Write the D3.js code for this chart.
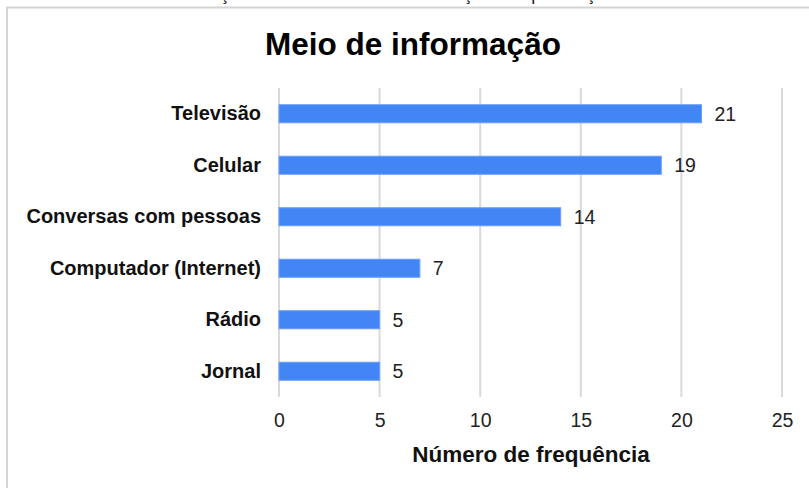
<!DOCTYPE html>
<html>
<head>
<meta charset="utf-8">
<script src="https://cdn.jsdelivr.net/npm/d3@7"></script>
<style>
  body { margin: 0; background: #fff; }
  svg { display: block; font-family: "Liberation Sans", Arial, sans-serif; }
</style>
</head>
<body>
<svg id="chart" width="809" height="488"></svg>
<script>
// dados
const categories = ["Televisão", "Celular", "Conversas com pessoas", "Computador (Internet)", "Rádio", "Jornal"];
const values = [21, 19, 14, 7, 5, 5];
const ticks = [0, 5, 10, 15, 20, 25];
const title = "Meio de informação";
const xTitle = "Número de frequência";
const caption = "Gráfico 4 - Meio de informação dos moradores sobre as ações de prevenção da comunidade local";

const svg = d3.select("#chart");

// legenda cortada no topo (como no original)
svg.append("text")
  .attr("x", 2)
  .attr("y", 0)
  .attr("font-size", 18)
  .attr("fill", "#222")
  .text(caption);

// moldura
svg.append("path")
  .attr("d", "M7,488V7.5H809")
  .attr("fill", "none")
  .attr("stroke", "#d4d4d4")
  .attr("stroke-width", 2);

const x = d3.scaleLinear().domain([0, 25]).range([279, 782]);
const y = d3.scaleBand().domain(categories).range([88, 397]).paddingInner(0.65).paddingOuter(0.325);

// título
svg.append("text")
  .attr("x", 413)
  .attr("y", 55)
  .attr("text-anchor", "middle")
  .attr("font-size", 31.5)
  .attr("font-weight", "bold")
  .attr("fill", "#000")
  .text(title);

// grade
svg.append("g")
  .selectAll("line")
  .data(ticks)
  .join("line")
  .attr("x1", (d) => x(d))
  .attr("x2", (d) => x(d))
  .attr("y1", 88)
  .attr("y2", 397)
  .attr("stroke", "#d9d9d9")
  .attr("stroke-width", 2);

// eixo x
const xAxis = svg.append("g")
  .attr("transform", "translate(0,397)")
  .call(d3.axisBottom(x).tickValues(ticks).tickSize(0).tickPadding(16));
xAxis.select(".domain").remove();
xAxis.selectAll("text")
  .attr("font-size", 19.5)
  .attr("font-family", "Liberation Sans, Arial, sans-serif")
  .attr("fill", "#222");

// eixo y
const yAxis = svg.append("g")
  .attr("transform", "translate(279,0)")
  .call(d3.axisLeft(y).tickSize(0).tickPadding(18));
yAxis.select(".domain").remove();
yAxis.selectAll("text")
  .attr("font-size", 20)
  .attr("font-weight", "bold")
  .attr("font-family", "Liberation Sans, Arial, sans-serif")
  .attr("fill", "#111");

// barras
svg.append("g")
  .selectAll("rect")
  .data(values)
  .join("rect")
  .attr("x", x(0))
  .attr("y", (d, i) => y(categories[i]))
  .attr("width", (d) => x(d) - x(0))
  .attr("height", y.bandwidth())
  .attr("fill", "#4285f4")
  .attr("stroke", "#6a9df6")
  .attr("stroke-width", 1);

// rótulos
svg.append("g")
  .selectAll("text")
  .data(values)
  .join("text")
  .attr("x", (d) => x(d) + 13)
  .attr("y", (d, i) => y(categories[i]) + y.bandwidth() / 2)
  .attr("dy", "0.36em")
  .attr("font-size", 19.5)
  .attr("fill", "#222")
  .text((d) => d);

// título do eixo x
svg.append("text")
  .attr("x", 531)
  .attr("y", 462)
  .attr("text-anchor", "middle")
  .attr("font-size", 22.5)
  .attr("font-weight", "bold")
  .attr("fill", "#111")
  .text(xTitle);
</script>
</body>
</html>
